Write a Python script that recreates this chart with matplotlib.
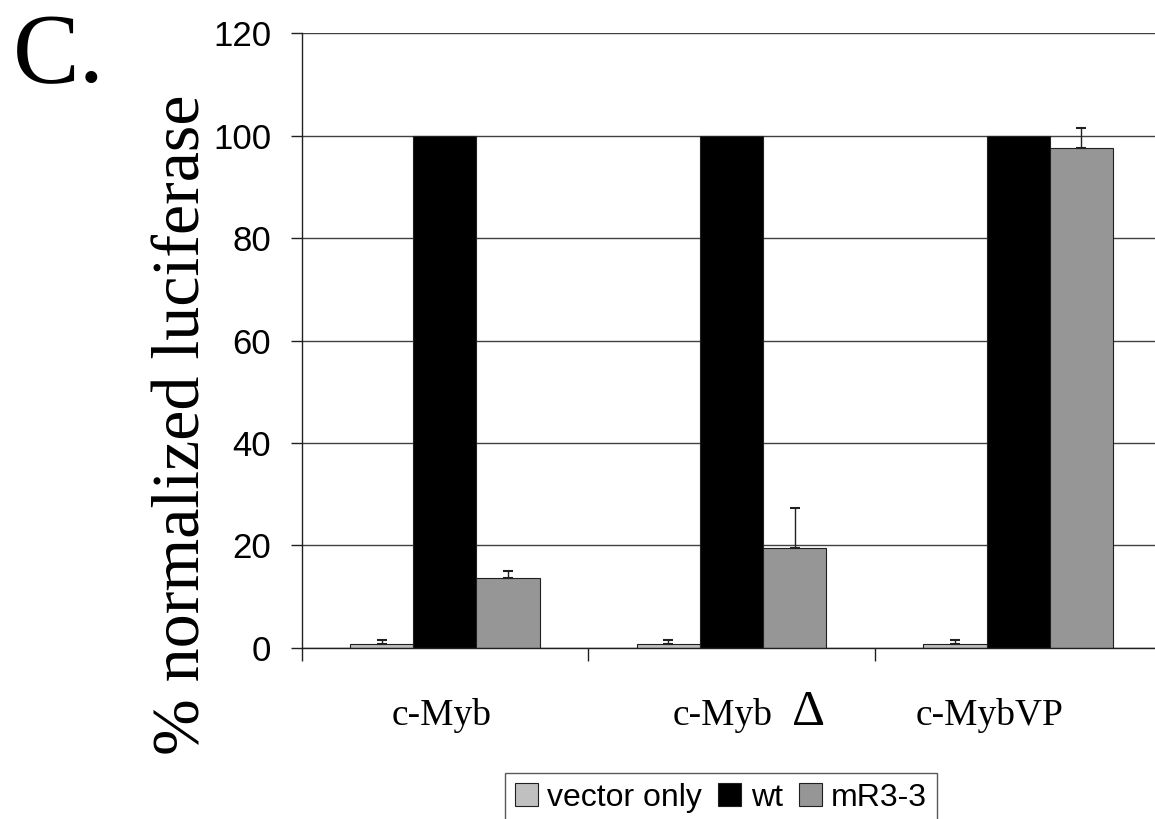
import numpy as np
import matplotlib
matplotlib.use("Agg")
import matplotlib.pyplot as plt
from matplotlib.transforms import blended_transform_factory

# Donnees
categories = ["c-Myb", "c-Myb Δ", "c-MybVP"]
series = ["vector only", "wt", "mR3-3"]
vector_only = [0.7, 0.7, 0.7]
vector_err = [0.85, 0.85, 0.85]
wt = [100, 100, 100]
wt_err = [0, 0, 0]
mr33 = [13.6, 19.5, 97.6]
mr33_err = [1.3, 7.7, 4.0]

y_ticks = [0, 20, 40, 60, 80, 100, 120]

colors = ["#c0c0c0", "#000000", "#969696"]

fig = plt.figure(figsize=(11.55, 8.19), dpi=100)
ax = fig.add_axes([301.7/1155, 1-647.7/819, 1-301.7/1155, (647.7-33.3)/819])

x = np.arange(len(categories))
width = 0.22
values = [vector_only, wt, mr33]
errors = [vector_err, wt_err, mr33_err]
for i, (vals, errs) in enumerate(zip(values, errors)):
    pos = x + (i-1)*width
    ax.bar(pos, vals, width, color=colors[i], edgecolor="#202020",
           linewidth=0.8, label=series[i], zorder=2)
    errs = np.array(errs)
    mask = errs > 0
    ax.errorbar(pos[mask], np.array(vals)[mask],
                yerr=[np.zeros(mask.sum()), errs[mask]],
                fmt="none", ecolor="#202020", elinewidth=1.0,
                capsize=3.6, capthick=1.5, zorder=3)

ax.set_ylim(0, 120)
ax.set_xlim(-0.5, 2.478)
ax.set_yticks(y_ticks)
ax.set_yticklabels([str(v) for v in y_ticks], fontfamily="Liberation Sans", fontsize=25)
ax.yaxis.grid(True, color="#404040", linewidth=1.0)
ax.set_axisbelow(True)

ax.set_xticks([-0.5, 0.5, 1.5])
ax.set_xticklabels([])
ax.tick_params(axis="x", length=9, width=1.0, color="#202020")
ax.tick_params(axis="y", length=8, width=1.0, color="#202020", pad=14)

for side in ["top", "right"]:
    ax.spines[side].set_visible(False)
for side in ["left", "bottom"]:
    ax.spines[side].set_color("#202020")
    ax.spines[side].set_linewidth(1.0)

# Noms des categories (Delta dessine plus grand)
trans = blended_transform_factory(ax.transData, fig.transFigure)
label_shift = [-0.01, -0.03, -0.10]
y_base = 1 - 725/819
for i, name in enumerate(categories):
    if name.endswith("Δ"):
        main = name[:-1].strip()
        ax.text(i + label_shift[i], y_base, main, transform=trans, ha="center",
                va="baseline", fontfamily="Liberation Serif", fontsize=27)
        ax.text(i + 0.27, y_base, "Δ", transform=trans, ha="center",
                va="baseline", fontfamily="Liberation Serif", fontsize=37)
    else:
        ax.text(i + label_shift[i], y_base, name, transform=trans, ha="center",
                va="baseline", fontfamily="Liberation Serif", fontsize=27)

fig.text(183/1155, 1-425/819, "% normalized luciferase", rotation=90,
         ha="center", va="center", fontfamily="Liberation Serif", fontsize=49)

fig.text(13/1155, 1-82/819, "C.", ha="left", va="baseline",
         fontfamily="Liberation Serif", fontsize=72)

leg = fig.legend(loc="upper left", bbox_to_anchor=(505/1155, 1-773/819),
                 ncol=3, frameon=True, fancybox=False, edgecolor="#303030",
                 prop={"family": "Liberation Sans", "size": 23},
                 handlelength=0.72, handleheight=0.72, handletextpad=0.3,
                 columnspacing=0.5, borderpad=0.3, borderaxespad=0)
leg.get_frame().set_linewidth(1.0)

fig.savefig("out.png", dpi=100)
